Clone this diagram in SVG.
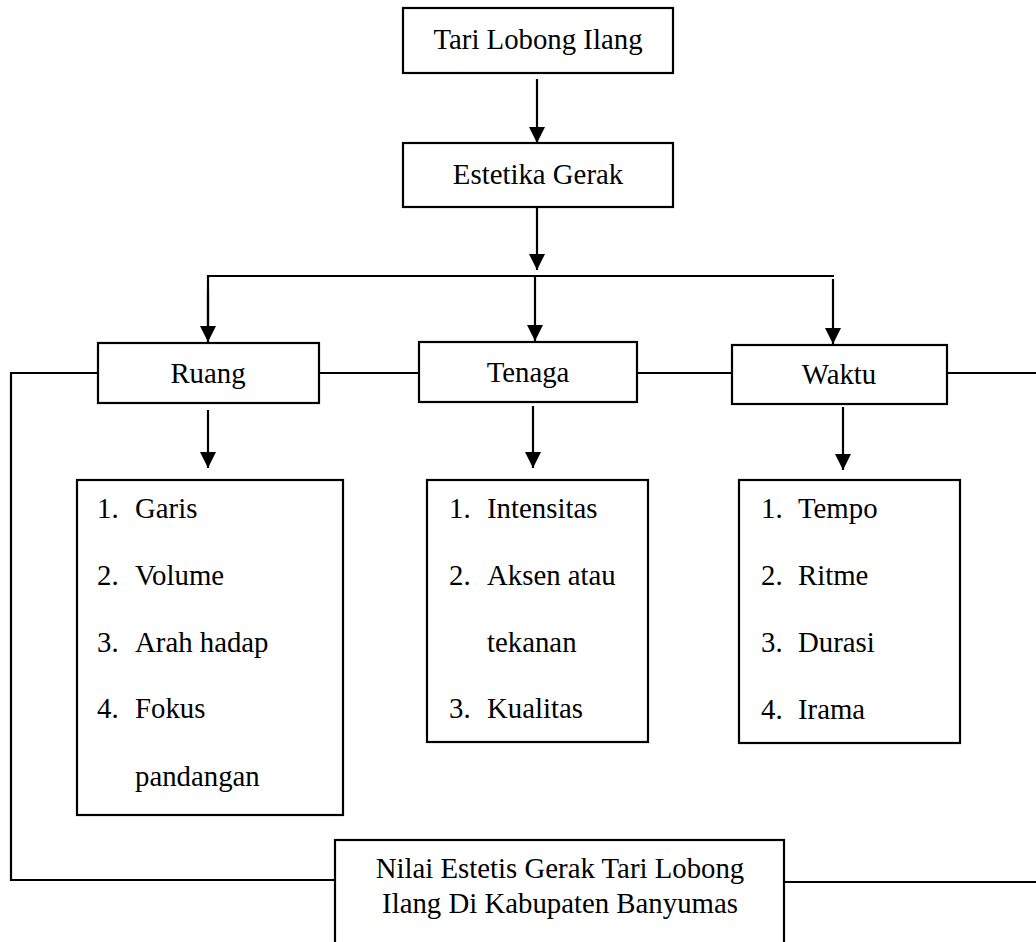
<svg xmlns="http://www.w3.org/2000/svg" width="1036" height="942" viewBox="0 0 1036 942">
<style>
.box{fill:#fff;stroke:#000;stroke-width:2.2}
.ln{fill:none;stroke:#000;stroke-width:2.2}
text{font-family:"Liberation Serif","Times New Roman",serif;font-size:28.8px;fill:#000}
.c{text-anchor:middle}
</style>
<defs>
<marker id="ah" markerUnits="userSpaceOnUse" markerWidth="16" markerHeight="16" viewBox="0 0 16 16" refX="16" refY="8" orient="auto">
<path d="M0,0 L16,8 L0,16 Z" fill="#000"/>
</marker>
</defs>
<g id="connectors">
<line class="ln" x1="537" y1="79" x2="537" y2="143" marker-end="url(#ah)"/>
<line class="ln" x1="537" y1="207" x2="537" y2="270" marker-end="url(#ah)"/>
<polyline class="ln" points="208,340 208,276 834,276"/>
<line class="ln" x1="208" y1="290" x2="208" y2="342" marker-end="url(#ah)"/>
<line class="ln" x1="535" y1="276" x2="535" y2="341" marker-end="url(#ah)"/>
<line class="ln" x1="833" y1="279" x2="833" y2="344" marker-end="url(#ah)"/>
<line class="ln" x1="208" y1="410" x2="208" y2="468" marker-end="url(#ah)"/>
<line class="ln" x1="533" y1="406" x2="533" y2="468" marker-end="url(#ah)"/>
<line class="ln" x1="843" y1="407" x2="843" y2="470" marker-end="url(#ah)"/>
<polyline class="ln" points="98,373 11,373 11,880 335,880"/>
<line class="ln" x1="319" y1="373" x2="419" y2="373"/>
<line class="ln" x1="637" y1="373" x2="732" y2="373"/>
<line class="ln" x1="947" y1="373" x2="1036" y2="373"/>
<line class="ln" x1="784" y1="882" x2="1036" y2="882"/>
</g>
<g id="tari">
<rect class="box" x="403" y="8" width="270" height="65"/>
<text class="c" x="538" y="49">Tari Lobong Ilang</text>
</g>
<g id="estetika">
<rect class="box" x="403" y="143" width="270" height="64"/>
<text class="c" x="538" y="184">Estetika Gerak</text>
</g>
<g id="ruang">
<rect class="box" x="98" y="343" width="221" height="60"/>
<text class="c" x="208" y="383">Ruang</text>
</g>
<g id="tenaga">
<rect class="box" x="419" y="342" width="218" height="60"/>
<text class="c" x="528" y="382">Tenaga</text>
</g>
<g id="waktu">
<rect class="box" x="732" y="345" width="215" height="59"/>
<text class="c" x="839" y="384">Waktu</text>
</g>
<g id="ruang-list">
<rect class="box" x="77" y="480" width="266" height="335"/>
<text x="97" y="518">1.</text><text x="135" y="518">Garis</text>
<text x="97" y="585">2.</text><text x="135" y="585">Volume</text>
<text x="97" y="652">3.</text><text x="135" y="652">Arah hadap</text>
<text x="97" y="718">4.</text><text x="135" y="718">Fokus</text>
<text x="135" y="786">pandangan</text>
</g>
<g id="tenaga-list">
<rect class="box" x="427" y="480" width="221" height="262"/>
<text x="449" y="518">1.</text><text x="487" y="518">Intensitas</text>
<text x="449" y="585">2.</text><text x="487" y="585">Aksen atau</text>
<text x="487" y="652">tekanan</text>
<text x="449" y="718">3.</text><text x="487" y="718">Kualitas</text>
</g>
<g id="waktu-list">
<rect class="box" x="739" y="480" width="221" height="263"/>
<text x="761" y="518">1.</text><text x="798" y="518">Tempo</text>
<text x="761" y="585">2.</text><text x="798" y="585">Ritme</text>
<text x="761" y="652">3.</text><text x="798" y="652">Durasi</text>
<text x="761" y="719">4.</text><text x="798" y="719">Irama</text>
</g>
<g id="nilai">
<rect class="box" x="335" y="840" width="449" height="120"/>
<text class="c" x="560" y="878">Nilai Estetis Gerak Tari Lobong</text>
<text class="c" x="560" y="913">Ilang Di Kabupaten Banyumas</text>
</g>
</svg>
